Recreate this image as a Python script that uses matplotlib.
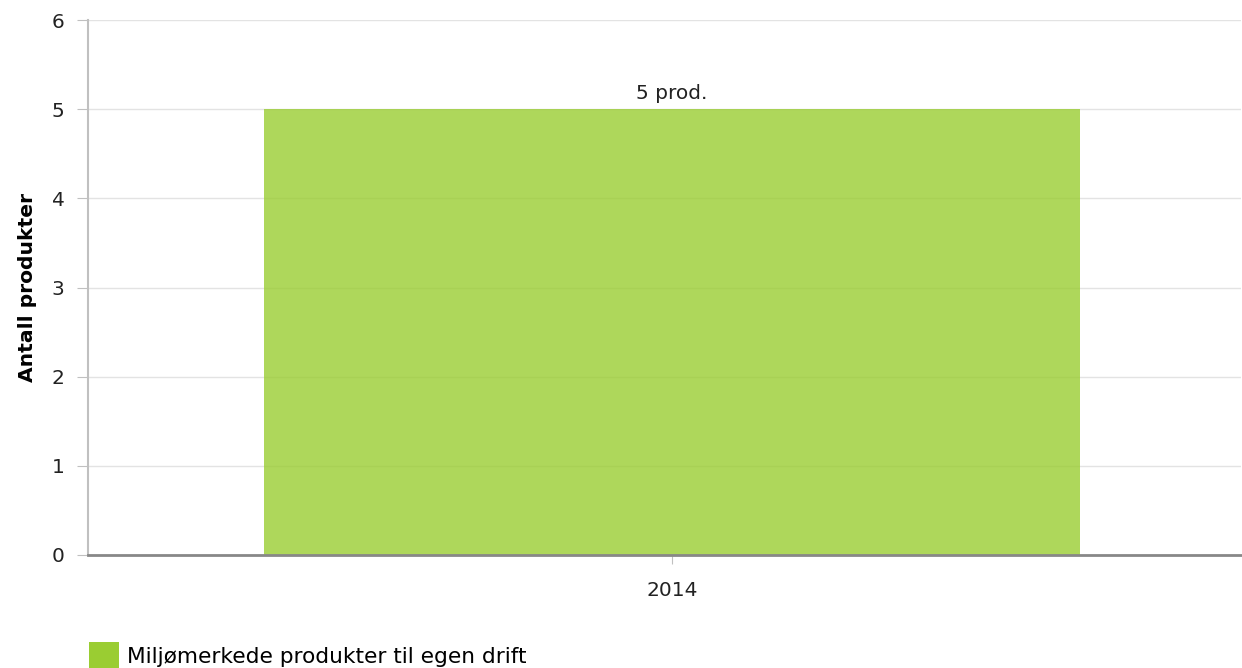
import matplotlib.pyplot as plt
from matplotlib.patches import Patch

# Datos
years = ['2014']
antall = [5]
etiquetas = ['5 prod.']
serie = 'Miljømerkede produkter til egen drift'
y_ticks = [0, 1, 2, 3, 4, 5, 6]

plt.rcParams['font.family'] = ['DejaVu Sans']

fig = plt.figure(figsize=(12.42, 6.68), dpi=100)
ax = fig.add_axes([88 / 1242, 1 - 555 / 668, 1153 / 1242, 535 / 668])

x = list(range(len(years)))
bars = ax.bar(x, antall, width=0.708, color='yellowgreen', alpha=0.8, zorder=2)
for b, txt in zip(bars, etiquetas):
    ax.text(b.get_x() + b.get_width() / 2, b.get_height() + 0.07, txt,
            ha='center', va='bottom', fontsize=14.5, color='#222222')

ax.set_xlim(-0.5065, 0.4935)
ax.set_ylim(0, 6)
ax.set_yticks(y_ticks)
ax.set_xticks(x)
ax.set_xticklabels(years)

ax.grid(axis='y', color='#e3e3e3', linewidth=1, zorder=0)
ax.set_axisbelow(True)

for s in ['top', 'right']:
    ax.spines[s].set_visible(False)
ax.spines['left'].set_color('#c0c0c0')
ax.spines['left'].set_linewidth(1.5)
ax.spines['bottom'].set_color('#888888')
ax.spines['bottom'].set_linewidth(2)
ax.spines['bottom'].set_zorder(3)

ax.tick_params(axis='y', length=8, color='#c0c0c0', labelsize=14.5, pad=9,
               labelcolor='#222222')
ax.tick_params(axis='x', length=6.5, color='#c0c0c0', labelsize=14.5, pad=12.5,
               labelcolor='#222222')

ax.set_ylabel('Antall produkter', fontsize=14.6, fontweight='bold')
ax.yaxis.set_label_coords(-0.044, 0.5)

# Leyenda
handle = Patch(facecolor='yellowgreen', edgecolor='none')
fig.legend([handle], [serie], loc='center left',
           bbox_to_anchor=(80 / 1242, 1 - 656 / 668), frameon=False,
           fontsize=15.6, handlelength=1.4, handleheight=1.6, handletextpad=0.35,
           borderaxespad=0)

fig.savefig('out.png', dpi=100)
